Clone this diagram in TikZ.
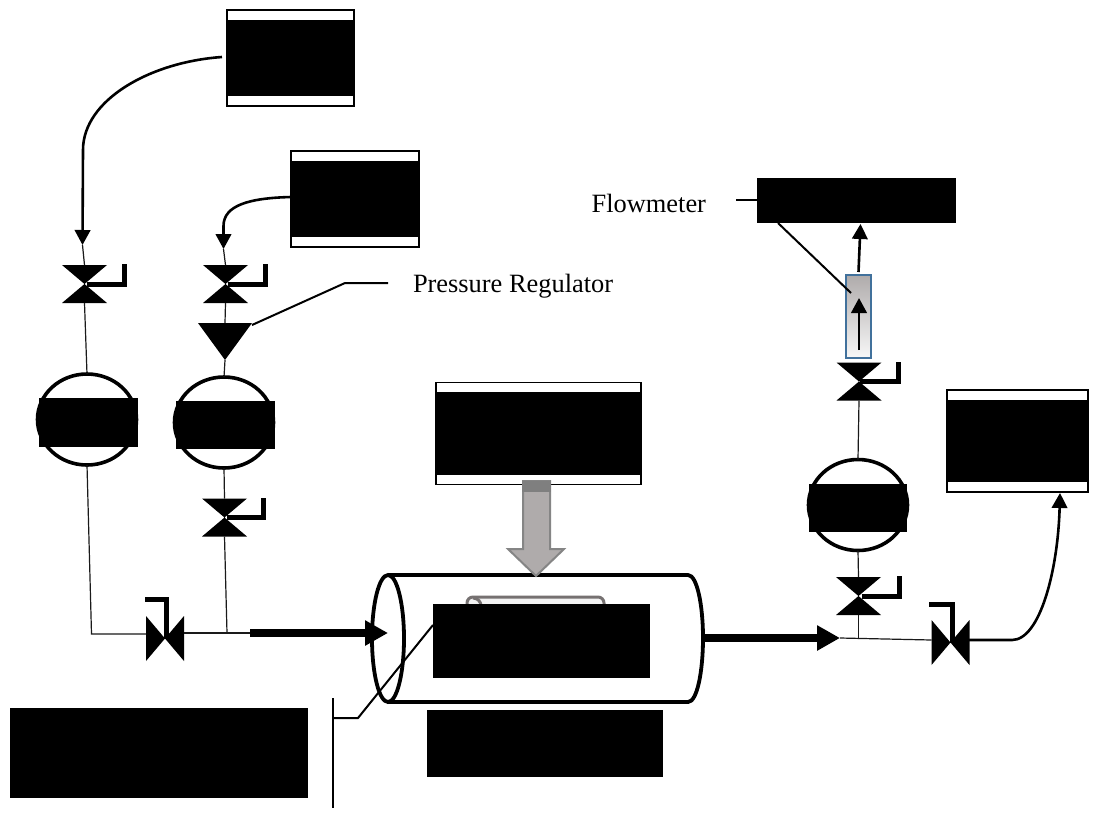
\documentclass[tikz,border=0pt]{standalone}
\usepackage{fontspec}
\setmainfont{Liberation Serif}
\usetikzlibrary{arrows.meta,shapes.geometric,calc}
\definecolor{pipegray}{HTML}{1A1A1A}
\definecolor{heatfill}{HTML}{AFABAB}
\definecolor{heatedge}{HTML}{858585}
\definecolor{heatband}{HTML}{7F7F7F}
\definecolor{tubeblue}{HTML}{41719C}
\definecolor{innergray}{HTML}{767171}
\tikzset{
  pipe/.style={draw=pipegray,line width=1.2pt},
  handle/.style={draw=black,line width=5pt,miter limit=10},
  flow/.style={draw=black,line width=2.6pt,-{Triangle[length=15pt,width=15.5pt]}},
  thick flow/.style={draw=black,line width=8pt,-{Triangle[length=23pt,width=24pt]},shorten >=0pt},
  leader/.style={draw=black,line width=2pt},
  vvalve/.style={inner sep=0,outer sep=0,minimum width=45pt,minimum height=38pt,
    path picture={\fill[black] (path picture bounding box.north west)--(path picture bounding box.north east)--(path picture bounding box.south west)--(path picture bounding box.south east)--cycle;}},
  hvalve/.style={inner sep=0,outer sep=0,minimum width=38pt,minimum height=45pt,
    path picture={\fill[black] (path picture bounding box.north west)--(path picture bounding box.south west)--(path picture bounding box.north east)--(path picture bounding box.south east)--cycle;}},
  regulator/.style={inner sep=0,outer sep=0,minimum width=54pt,minimum height=37pt,
    path picture={\fill[black] (path picture bounding box.north west)--(path picture bounding box.north east)--(path picture bounding box.south)--cycle;}},
  gauge/.style={draw=black,ellipse,line width=3.6pt,inner sep=0,outer sep=0,minimum width=99pt,minimum height=91pt},
  whitebox/.style={draw=black,fill=white,line width=1.6pt,inner sep=0,outer sep=0},
  redact/.style={fill=black,inner sep=0,outer sep=0},
  label/.style={inner sep=0,outer sep=0,font=\fontsize{26.4}{30}\selectfont,text=black},
  vessel/.style={draw=black,line width=3.8pt,line join=round},
}
\begin{document}
\begin{tikzpicture}[x=1pt,y=-1pt]
\useasboundingbox (0,0) rectangle (1116,812);
\fill[white] (0,0) rectangle (1116,812);

% ---- vessel
\coordinate (vTL) at (388,575);
\coordinate (vBL) at (388,702);
\coordinate (vTR) at (688,575);
\coordinate (vBR) at (688,702);
\coordinate (vE) at (703,638);
\draw[vessel] (vTL) -- (vTR) .. controls (697,575) and (703,605) .. (vE) .. controls (703,672) and (697,702) .. (vBR) -- (vBL);
\node[draw=black,ellipse,line width=3.8pt,inner sep=0,outer sep=0,minimum width=32pt,minimum height=127pt] (vL) at (388,638.5) {};
% inner device
\draw[draw=innergray,fill=black!5,line width=3pt,rounded corners=6pt] (467,650) -- (467,597) -- (604,597) -- (604,650);
\draw[draw=innergray,line width=3pt] (473,598) .. controls (478,598) and (481,602) .. (481,606);

% ---- source boxes
\node[whitebox,minimum width=127pt,minimum height=96pt] (b1) at (290.5,58) {};
\node[redact,minimum width=127pt,minimum height=76pt] (b1k) at (290.5,58) {};
\node[whitebox,minimum width=128pt,minimum height=96pt] (b2) at (355,199) {};
\node[redact,minimum width=128pt,minimum height=76pt] (b2k) at (355,199) {};
\node[whitebox,minimum width=205pt,minimum height=102pt] (b3) at (538.5,433.5) {};
\node[redact,minimum width=205pt,minimum height=83pt] (b3k) at (538.5,433.5) {};
\node[whitebox,minimum width=141pt,minimum height=102pt] (b4) at (1017.5,441) {};
\node[redact,minimum width=141pt,minimum height=82pt] (b4k) at (1017.5,441) {};

% ---- left line
\node[vvalve] (v1) at (84.5,284) {};
\node[gauge] (g1) at (87,419.5) {};
\node[redact,minimum width=99pt,minimum height=49pt] (g1k) at (88.5,422.5) {};
\coordinate (s1) at (222,57);
\coordinate (a1) at (82.5,245);
\draw[flow] (s1) .. controls (150,62) and (83,100) .. (83,150) -- (a1);
\draw[pipe] (a1) -- (v1.north);
\draw[pipe] (v1.south) -- (g1.north);
\draw[handle] ($(v1.center)+(2,0)$) -| ++(38,-20);

% ---- second line
\node[vvalve] (v2) at (225.5,284) {};
\node[regulator] (r1) at (225,341.5) {};
\node[gauge] (g2) at (224,422.5) {};
\node[redact,minimum width=99pt,minimum height=48pt] (g2k) at (225.5,425) {};
\node[vvalve] (v3) at (224.5,517.5) {};
\coordinate (s2) at (291,197);
\coordinate (a2) at (223.5,249);
\draw[flow] (s2) .. controls (250,198) and (223.5,205) .. (223.5,226) -- (a2);
\draw[pipe] (a2) -- (v2.north);
\draw[pipe] (v2.south) -- (r1.north);
\draw[pipe] (r1.south) -- (g2.north);
\draw[pipe] (g2.south) -- (v3.north);
\draw[handle] ($(v2.center)+(2,0)$) -| ++(38,-20);
\draw[handle] ($(v3.center)+(2,0)$) -| ++(37,-20);

% ---- regulator label
\node[label,anchor=base west] (regl) at (413,292) {Pressure Regulator};
\coordinate (rk) at (345,283);
\coordinate (re) at (388,283);
\draw[leader] (r1.north east) ++(0,2) -- (rk) -- (re);

% ---- inlet manifold
\node[hvalve] (v4) at (165,638.5) {};
\coordinate (c1) at (91.5,634);
\coordinate (j1) at (227,633);
\coordinate (t1) at (250,633);
\coordinate (t1e) at (388,633);
\draw[pipe] (g1.south) -- (c1) -- (v4.west |- c1);
\draw[pipe] (v4.east |- j1) -- (j1) -- (t1);
\draw[pipe] (v3.south) -- (j1);
\draw[handle] (v4.center) ++(1,0) |- ++(-21,-39);
\draw[thick flow] (t1) -- (t1e);

% ---- heat arrow
\draw[draw=heatedge,fill=heatfill,line width=2pt,line join=miter]
  (523,481) -- (550,481) -- (550,549) -- (564,549) -- (536,576) -- (508,549) -- (523,549) -- cycle;
\fill[heatband] (522,481) rectangle (551,492);

% ---- vessel centre and lower rectangles
\node[redact,minimum width=217pt,minimum height=74pt] (k1) at (541.5,641) {};
\node[redact,minimum width=236pt,minimum height=67pt] (k2) at (545,743.5) {};
\node[redact,minimum width=298pt,minimum height=90pt] (k3) at (159,753) {};
\coordinate (bT) at (333,698);
\coordinate (bB) at (333,808);
\coordinate (bM) at (333,718);
\coordinate (bK) at (358,718);
\coordinate (bE) at (433,625);
\draw[leader] (bT) -- (bB);
\draw[leader] (bM) -- (bK) -- (bE);

% ---- flowmeter branch
\node[redact,minimum width=199pt,minimum height=45pt] (fm) at (856.5,200.5) {};
\node[label,anchor=base east] (fml) at (706,212) {Flowmeter};
\coordinate (fd) at (736,200);
\coordinate (fe) at (757,200);
\draw[leader] (fd) -- (fe);
\node[draw=tubeblue,line width=2pt,top color=heatfill,middle color=heatfill!75!white,bottom color=black!3,inner sep=0,outer sep=0,minimum width=25pt,minimum height=83pt] (tube) at (858.5,316.5) {};
\coordinate (ti) at (851,293);
\draw[leader] (fm.south west) ++(21,0) -- (ti);
\coordinate (ft) at (860.5,224);
\draw[flow] (tube.north) ++(0,-3) -- (ft);
\coordinate (tt) at (859,350);
\coordinate (th) at (859,298);
\draw[flow] (tt) -- (th);

\node[vvalve] (v5) at (859,381.5) {};
\node[gauge] (g3) at (858,505) {};
\node[redact,minimum width=98pt,minimum height=48pt] (g3k) at (858,508) {};
\node[vvalve] (v6) at (858.5,596) {};
\draw[pipe] (v5.south) -- (g3.north);
\draw[pipe] (g3.south) -- (v6.north);
\coordinate (j2) at (858.5,638);
\draw[pipe] (v6.south) -- (j2);
\draw[handle] ($(v5.center)+(1,0)$) -| ++(38.5,-20);
\draw[handle] ($(v6.center)+(3,0)$) -| ++(38,-20);

% ---- outlet
\node[hvalve] (v7) at (950.5,642.5) {};
\coordinate (t2s) at (703,638);
\coordinate (t2) at (840,638);
\coordinate (o1) at (969,640);
\coordinate (o2) at (1012,640);
\draw[thick flow] (t2s) -- (t2);
\draw[pipe] (t2) -- (v7.west |- o1);
\draw[handle] (v7.center) ++(1.5,0) |- ++(-23,-38);
\coordinate (a3) at (1060,493);
\draw[flow] (o1) -- (o2) .. controls (1040,640) and (1058,570) .. (a3);
\end{tikzpicture}
\end{document}
